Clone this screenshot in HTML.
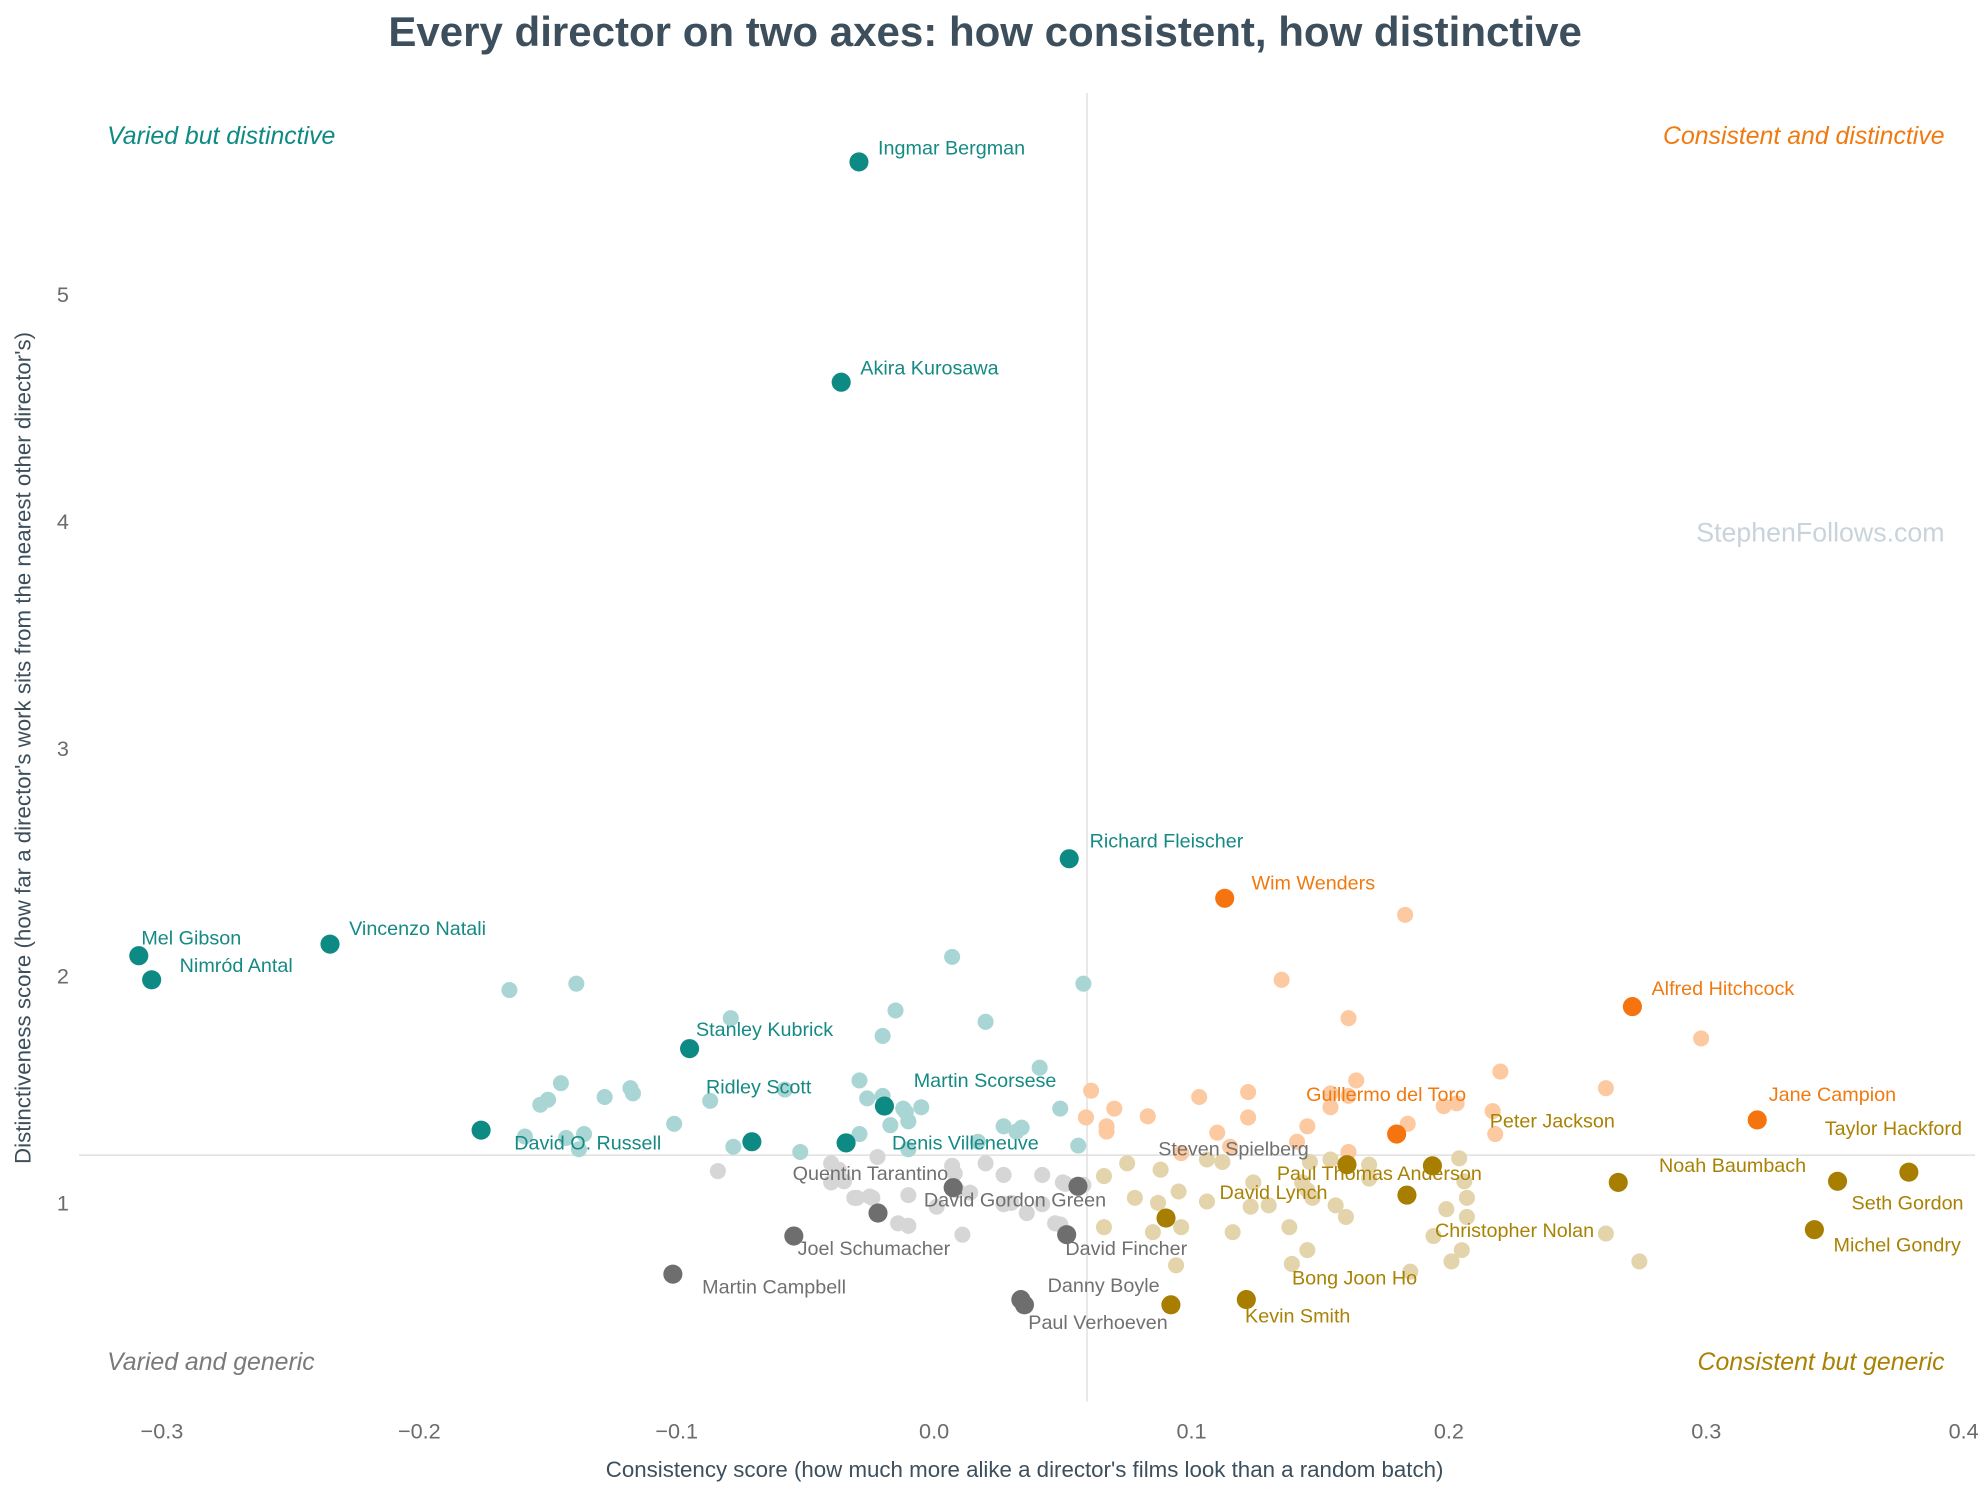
<!DOCTYPE html>
<html><head><meta charset="utf-8"><style>
html,body{margin:0;padding:0;background:#fff;}
svg{display:block;font-family:"Liberation Sans",Arial,sans-serif;}
</style></head><body>
<svg id="chart" width="1988" height="1487" viewBox="0 0 1560 1167" xmlns="http://www.w3.org/2000/svg">
<rect width="1560" height="1167" fill="#fff"/>
<text x="773" y="36" text-anchor="middle" font-size="33" font-weight="bold" fill="#3d4f5c">Every director on two axes: how consistent, how distinctive</text>
<text x="84" y="113" font-size="19.5" font-style="italic" fill="#0e8a84">Varied but distinctive</text>
<text x="1526" y="113" text-anchor="end" font-size="19.5" font-style="italic" fill="#f07a10">Consistent and distinctive</text>
<text x="84" y="1075" font-size="19.5" font-style="italic" fill="#7a7a7a">Varied and generic</text>
<text x="1526" y="1075" text-anchor="end" font-size="19.5" font-style="italic" fill="#a98204">Consistent but generic</text>
<text x="1526" y="425" text-anchor="end" font-size="21" fill="#c8d3db">StephenFollows.com</text>
<text transform="translate(24,587) rotate(-90)" text-anchor="middle" font-size="17.5" fill="#3d4f5c">Distinctiveness score  (how far a director's work sits from the nearest other director's)</text>
<text x="804" y="1159" text-anchor="middle" font-size="17.5" fill="#3d4f5c">Consistency score  (how much more alike a director's films look than a random batch)</text>
<g id="ticks"></g>
<g id="reflines"></g>
<g id="faint"></g>
<g id="hi"></g>
<g id="labels"></g>
</svg>
<script>
const xTicks=[-0.3,-0.2,-0.1,0.0,0.1,0.2,0.3,0.4];
const xTickLabels=["\u22120.3","\u22120.2","\u22120.1","0.0","0.1","0.2","0.3","0.4"];
const yTicks=[1,2,3,4,5];
const yTickLabels=["1","2","3","4","5"];
const medianX=0.0594;
const medianY=1.21;
const tealFaintX=[-0.165,-0.139,-0.079,0.007,-0.015,0.020,-0.020,0.058,0.041,-0.145,-0.118,-0.117,-0.128,-0.150,-0.153,-0.087,-0.058,-0.029,-0.020,-0.026,-0.012,-0.005,-0.010,-0.017,-0.101,-0.136,-0.159,-0.143,-0.138,-0.078,-0.052,-0.029,-0.010,-0.011,0.017,0.027,0.032,0.049,0.056,0.034];
const tealFaintY=[1.937,1.965,1.813,2.083,1.847,1.797,1.735,1.965,1.595,1.527,1.505,1.482,1.466,1.454,1.432,1.449,1.499,1.539,1.471,1.460,1.415,1.421,1.359,1.342,1.348,1.303,1.292,1.286,1.236,1.247,1.224,1.303,1.236,1.400,1.269,1.337,1.314,1.415,1.252,1.331];
const orangeFaintX=[0.183,0.135,0.161,0.298,0.220,0.164,0.061,0.122,0.103,0.161,0.154,0.261,0.154,0.203,0.217,0.070,0.067,0.059,0.083,0.122,0.198,0.184,0.067,0.145,0.161,0.218,0.110,0.115,0.096,0.141];
const orangeFaintY=[2.268,1.982,1.813,1.724,1.578,1.539,1.494,1.488,1.466,1.471,1.482,1.505,1.421,1.438,1.404,1.415,1.337,1.376,1.381,1.376,1.426,1.348,1.314,1.337,1.224,1.303,1.309,1.247,1.219,1.269];
const goldFaintX=[0.204,0.169,0.169,0.146,0.112,0.106,0.075,0.088,0.143,0.124,0.095,0.066,0.087,0.206,0.207,0.078,0.147,0.156,0.130,0.123,0.106,0.160,0.199,0.207,0.096,0.066,0.085,0.138,0.116,0.194,0.261,0.145,0.205,0.201,0.139,0.185,0.094,0.274,0.154,0.145];
const goldFaintY=[1.196,1.168,1.107,1.180,1.180,1.191,1.174,1.146,1.090,1.090,1.050,1.118,1.000,1.095,1.022,1.022,1.022,0.989,0.989,0.983,1.006,0.938,0.972,0.938,0.893,0.893,0.871,0.893,0.871,0.854,0.865,0.792,0.792,0.742,0.731,0.697,0.725,0.742,1.191,1.056];
const grayFaintX=[-0.084,-0.040,-0.037,-0.022,0.007,0.008,0.020,0.027,0.042,0.051,0.058,-0.040,-0.035,-0.025,-0.031,-0.010,0.009,0.014,0.001,0.036,0.030,0.042,0.050,0.027,-0.014,-0.010,0.047,0.049,0.011,-0.030,-0.024];
const grayFaintY=[1.140,1.174,1.146,1.202,1.163,1.129,1.174,1.123,1.123,1.084,1.079,1.090,1.095,1.028,1.022,1.034,1.056,1.045,0.983,0.955,1.000,0.994,1.090,0.994,0.910,0.899,0.910,0.905,0.860,1.022,1.022];
const hiNames=["Ingmar Bergman","Akira Kurosawa","Richard Fleischer","Mel Gibson","Vincenzo Natali","Nimród Antal","Stanley Kubrick","Ridley Scott","Martin Scorsese","David O. Russell","Denis Villeneuve","Wim Wenders","Alfred Hitchcock","Jane Campion","Guillermo del Toro","Taylor Hackford","Seth Gordon","Noah Baumbach","Michel Gondry","Peter Jackson","Paul Thomas Anderson","Christopher Nolan","David Lynch","Bong Joon Ho","Kevin Smith","Steven Spielberg","Quentin Tarantino","David Gordon Green","Joel Schumacher","Martin Campbell","Danny Boyle","Paul Verhoeven","David Fincher"];
const hiX=[-0.0292,-0.0361,0.0525,-0.309,-0.2347,-0.304,-0.095,-0.0708,-0.0193,-0.176,-0.0342,0.1129,0.2713,0.3198,0.1797,0.3787,0.351,0.2658,0.342,0.1936,0.1604,0.1837,0.0901,0.092,0.1213,0.0559,0.0074,-0.0218,-0.0545,-0.1015,0.0337,0.0351,0.0515];
const hiY=[5.583,4.613,2.515,2.088,2.139,1.982,1.679,1.269,1.426,1.320,1.264,2.341,1.864,1.365,1.303,1.135,1.095,1.090,0.882,1.163,1.168,1.034,0.933,0.551,0.574,1.073,1.067,0.955,0.854,0.686,0.574,0.551,0.860];
const hiGroup=["t","t","t","t","t","t","t","t","t","t","t","o","o","o","o","g","g","g","g","g","g","g","g","g","g","k","k","k","k","k","k","k","k"];
// label layout offsets (px) — styling, not data
const labelDx=[15,15,16,2,15,22,5,-36,23,26,36,21,15,9,-71,-66,11,32,15,45,-55,22,42,95,-1,63,-126,36,3,23,21,3,-1];
const labelDy=[-11,-11,-14,-14,-12,-11,-15,-43,-20,10,0,-12,-14,-20,-31,-34,17,-13,12,-35,7,28,-20,-21,13,-29,-11,-10,10,10,-11,14,11];

const NS="http://www.w3.org/2000/svg";
function sx(v){return 733+(v)*2020;}
function sy(v){return 944-(v-1)*178.25;}
function mk(tag,attrs,parent){const e=document.createElementNS(NS,tag);for(const k in attrs)e.setAttribute(k,attrs[k]);parent.appendChild(e);return e;}
const gT=document.getElementById('ticks'),gR=document.getElementById('reflines'),gF=document.getElementById('faint'),gH=document.getElementById('hi'),gL=document.getElementById('labels');
xTicks.forEach((v,i)=>{const t=mk('text',{x:sx(v),y:1129,'text-anchor':'middle','font-size':17,fill:'#6b6b6b'},gT);t.textContent=xTickLabels[i];

});
yTicks.forEach((v,i)=>{const t=mk('text',{x:54,y:sy(v)+6,'text-anchor':'end','font-size':17,fill:'#6b6b6b'},gT);t.textContent=yTickLabels[i];

});
const vl=mk('line',{x1:sx(medianX),x2:sx(medianX),y1:73,y2:1100,stroke:'#dadada','stroke-width':1},gR);


const hl=mk('line',{x1:62,x2:1550,y1:sy(medianY),y2:sy(medianY),stroke:'#dadada','stroke-width':1},gR);


function faint(xs,ys,col,name){xs.forEach((v,i)=>{const c=mk('circle',{cx:sx(v),cy:sy(ys[i]),r:6.3,fill:col},gF);

});}
faint(tealFaintX,tealFaintY,'#a9d6d4','director-point-varied-distinctive');
faint(orangeFaintX,orangeFaintY,'#fcc9a0','director-point-consistent-distinctive');
faint(goldFaintX,goldFaintY,'#e3d4ab','director-point-consistent-generic');
faint(grayFaintX,grayFaintY,'#d6d6d6','director-point-varied-generic');
const dotCol={t:'#0e8a84',o:'#f57410',g:'#a87e00',k:'#6e6e6e'};
const txtCol={t:'#158a84',o:'#f07a10',g:'#a98204',k:'#707070'};
hiNames.forEach((n,i)=>{const px=sx(hiX[i]),py=sy(hiY[i]);
const c=mk('circle',{cx:px,cy:py,r:7.5,fill:dotCol[hiGroup[i]]},gH);


const t=mk('text',{x:px+labelDx[i],y:py+labelDy[i]+5,'font-size':15.5,fill:txtCol[hiGroup[i]]},gL);t.textContent=n;

});
</script>
</body></html>
